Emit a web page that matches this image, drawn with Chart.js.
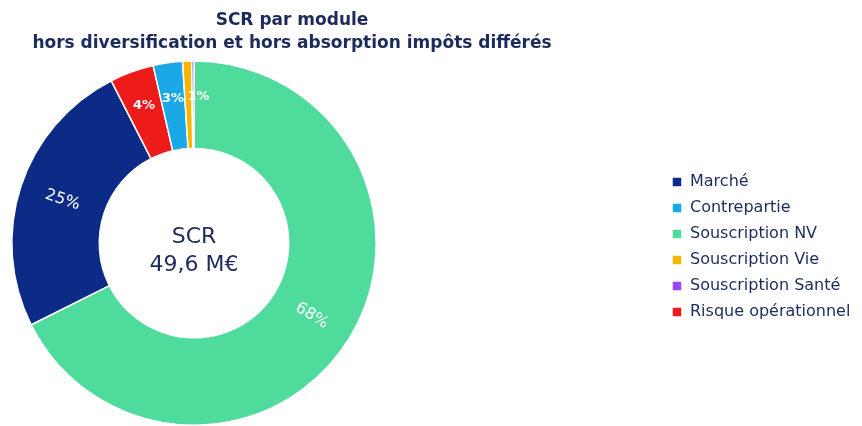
<!DOCTYPE html>
<html>
<head>
<meta charset="utf-8">
<script src="https://cdn.jsdelivr.net/npm/chart.js@4/dist/chart.umd.min.js"></script>
<style>
  html, body { margin: 0; padding: 0; background: #fff; }
  #wrap { width: 862px; height: 426px; }
</style>
</head>
<body>
<div id="wrap"><canvas id="chart-scr"></canvas></div>
<script>
// drawing order is clockwise from 12 o'clock
const labels = ["Souscription NV", "Marché", "Risque opérationnel", "Contrepartie", "Souscription Vie", "Souscription Santé"];
const shares = [67.6, 24.9, 3.9, 2.6, 0.8, 0.2];
const colors = ["#4edb9b", "#0b2b86", "#ee1b1b", "#1aa9e6", "#f7b500", "#9b45f5"];
const legendOrder = ["Marché", "Contrepartie", "Souscription NV", "Souscription Vie", "Souscription Santé", "Risque opérationnel"];
const titleLines = ["SCR par module", "hors diversification et hors absorption impôts différés"];
const centerLines = ["SCR", "49,6 M€"];

const NAVY = "#1c2b5b";
const LEGEND_W = 196;

// keep the doughnut on the left and push the legend to the right edge
const legendPlace = {
  id: "legendPlace",
  beforeLayout(chart) {
    const lg = chart.legend;
    if (lg && !lg._patched) {
      const fit = lg.fit;
      lg.fit = function () { fit.call(this); this.width = LEGEND_W; };
      lg._patched = true;
    }
  },
  afterLayout(chart) {
    const lg = chart.legend;
    lg.left = 662;
    lg.right = 862;
    lg.top += 34;
    lg.bottom += 34;
  }
};

const sliceLabels = {
  id: "sliceLabels",
  afterDatasetsDraw(chart) {
    const ctx = chart.ctx;
    const meta = chart.getDatasetMeta(0);
    meta.data.forEach((arc, i) => {
      const v = shares[i];
      if (v < 0.5) return;
      const p = arc.getProps(["x", "y", "startAngle", "endAngle", "innerRadius", "outerRadius"], true);
      const mid = (p.startAngle + p.endAngle) / 2;
      const big = v >= 10;
      const r = (p.innerRadius + p.outerRadius) / 2 + (big ? 0 : 8);
      ctx.save();
      ctx.translate(p.x + Math.cos(mid) * r, p.y + Math.sin(mid) * r);
      if (big) ctx.rotate(Math.cos(mid) < 0 ? mid + Math.PI : mid);
      ctx.fillStyle = "#ffffff";
      // very thin slices: text starts at the slice instead of centring on it
      ctx.textAlign = v < 2 ? "left" : "center";
      ctx.textBaseline = "middle";
      ctx.font = big ? "16px 'DejaVu Sans'" : "bold 13px 'DejaVu Sans'";
      ctx.fillText(Math.round(v) + "%", v < 2 ? -1 : 0, 0);
      ctx.restore();
    });

    const a = chart.chartArea;
    const cx = (a.left + a.right) / 2, cy = (a.top + a.bottom) / 2;
    ctx.save();
    ctx.fillStyle = NAVY;
    ctx.textAlign = "center";
    ctx.textBaseline = "middle";
    ctx.font = "22px 'DejaVu Sans'";
    ctx.fillText(centerLines[0], cx, cy - 6);
    ctx.fillText(centerLines[1], cx, cy + 22);
    ctx.restore();
  }
};

new Chart(document.getElementById("chart-scr").getContext("2d"), {
  type: "doughnut",
  data: {
    labels: labels,
    datasets: [
      {
        data: shares,
        backgroundColor: colors,
        borderColor: "#ffffff",
        borderWidth: 1.5,
      },
    ],
  },
  options: {
    responsive: true,
    maintainAspectRatio: false,
    animation: false,
    cutout: "52%",
    layout: { padding: { left: 0, right: 278, top: 0, bottom: 0 } },
    plugins: {
      tooltip: { enabled: false },
      title: {
        display: true,
        text: titleLines,
        color: NAVY,
        font: { family: "DejaVu Sans", size: 17, weight: "bold", lineHeight: 1.3 },
        padding: { top: 10, bottom: 6 },
      },
      legend: {
        position: "right",
        labels: {
          color: NAVY,
          font: { family: "DejaVu Sans", size: 16 },
          boxWidth: 10,
          boxHeight: 10,
          padding: 10,
          sort: (a, b) => legendOrder.indexOf(a.text) - legendOrder.indexOf(b.text),
        },
      },
    },
  },
  plugins: [legendPlace, sliceLabels],
});
</script>
</body>
</html>
